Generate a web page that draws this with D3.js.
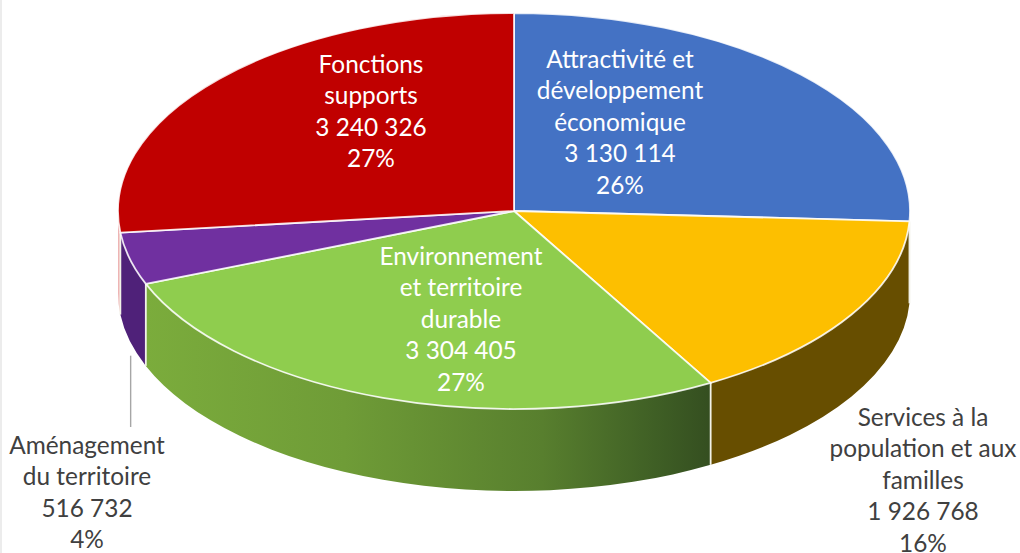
<!DOCTYPE html>
<html>
<head>
<meta charset="utf-8">
<style>
    html, body { margin: 0; padding: 0; background: #fff; overflow: hidden; }
    svg { display: block; font-family: Lato, sans-serif; }
</style>
</head>
<body>
<div id="visualization"></div>
<script src="https://cdn.jsdelivr.net/npm/d3@7"></script>
<script>
const categories = [
    ['Attractivité et', 'développement', 'économique'],
    ['Services à la', 'population et aux', 'familles'],
    ['Environnement', 'et territoire', 'durable'],
    ['Aménagement', 'du territoire'],
    ['Fonctions', 'supports']
];
const values = [3130114, 1926768, 3304405, 516732, 3240326];
const topColors = ['#4472c4', '#fdbf00', '#8fcd4e', '#7030a0', '#c00000'];
const wallColors = ['#4472c4', '#674e00', 'url(#greenWall)', '#4f2179', '#eeb4b4'];
const labelColors = ['#fff', '#404040', '#fff', '#404040', '#fff'];

// label centres, in page pixels (first line)
const labelX = [620, 923, 461, 87, 371];
const labelY = [59, 417, 256, 445, 64];

const width = 1020;
const height = 553;
const cx = 514;
const cy = 211;
const rx = 396;
const ry = 198;
const depth = 82;
const lineHeight = 31.6;

const fmt = d3.formatLocale({ decimal: ',', thousands: ' ', grouping: [3], currency: ['', ' €'] }).format(',d');
const total = d3.sum(values);

const svg = d3.select('#visualization')
    .append('svg')
    .attr('width', width)
    .attr('height', height);

svg.append('rect')
    .attr('width', 2)
    .attr('height', height)
    .attr('fill', '#ececec');

const grad = svg.append('defs')
    .append('linearGradient')
    .attr('id', 'greenWall')
    .attr('gradientUnits', 'userSpaceOnUse')
    .attr('x1', cx - rx * 0.93)
    .attr('x2', cx + rx * 0.5)
    .attr('y1', 0)
    .attr('y2', 0);
grad.append('stop').attr('offset', '0%').attr('stop-color', '#7bac3c');
grad.append('stop').attr('offset', '35%').attr('stop-color', '#6f9c37');
grad.append('stop').attr('offset', '70%').attr('stop-color', '#587f2e');
grad.append('stop').attr('offset', '90%').attr('stop-color', '#3f5f25');
grad.append('stop').attr('offset', '100%').attr('stop-color', '#344e20');

const pie = d3.pie().sort(null).value(d => d);
const arcs = pie(values);

// angle 0 is at 12 o'clock, clockwise
const px = a => cx + rx * Math.sin(a);
const py = a => cy - ry * Math.cos(a);

// Side walls: only the front half of the ellipse is visible
const walls = arcs.map((d, i) => {
    const a0 = Math.max(d.startAngle, Math.PI / 2);
    const a1 = Math.min(d.endAngle, 3 * Math.PI / 2);
    return { i, a0, a1 };
}).filter(d => d.a1 > d.a0);

svg.append('g')
    .selectAll('path')
    .data(walls)
    .enter()
    .append('path')
    .attr('fill', d => wallColors[d.i])
    .attr('d', d => `M${px(d.a0)},${py(d.a0)}`
        + `A${rx},${ry} 0 0 1 ${px(d.a1)},${py(d.a1)}`
        + `L${px(d.a1)},${py(d.a1) + depth}`
        + `A${rx},${ry} 0 0 0 ${px(d.a0)},${py(d.a0) + depth}Z`);

// White seams between the walls
svg.append('g')
    .selectAll('line')
    .data(arcs.filter(d => d.startAngle > Math.PI / 2 && d.startAngle < 3 * Math.PI / 2))
    .enter()
    .append('line')
    .attr('x1', d => px(d.startAngle))
    .attr('x2', d => px(d.startAngle))
    .attr('y1', d => py(d.startAngle))
    .attr('y2', d => py(d.startAngle) + depth)
    .attr('stroke', '#f2f2e8')
    .attr('stroke-width', 1.8);

// Top of the pie
svg.append('g')
    .selectAll('path')
    .data(arcs)
    .enter()
    .append('path')
    .attr('fill', (d, i) => topColors[i])
    .attr('stroke', '#fff')
    .attr('stroke-opacity', 0.85)
    .attr('stroke-width', 1.8)
    .attr('stroke-linejoin', 'round')
    .attr('d', d => {
        const large = d.endAngle - d.startAngle > Math.PI ? 1 : 0;
        return `M${cx},${cy}L${px(d.startAngle)},${py(d.startAngle)}`
            + `A${rx},${ry} 0 ${large} 1 ${px(d.endAngle)},${py(d.endAngle)}Z`;
    });

// Leader line for the small slice
const small = arcs[3];
const leaderAngle = (small.startAngle + small.endAngle) / 2;
svg.append('line')
    .attr('x1', px(leaderAngle) + 1)
    .attr('x2', px(leaderAngle) + 1)
    .attr('y1', py(leaderAngle) + depth + 15)
    .attr('y2', 427)
    .attr('stroke', '#a6a6a6')
    .attr('stroke-width', 1.4);

// Labels
const label = svg.append('g')
    .selectAll('text')
    .data(categories)
    .enter()
    .append('text')
    .attr('text-anchor', 'middle')
    .attr('font-size', 24.4)
    .attr('fill', (d, i) => labelColors[i]);

label.each(function(d, i) {
    const lines = d.concat([fmt(values[i]), Math.round(values[i] / total * 100) + '%']);
    d3.select(this).selectAll('tspan')
        .data(lines)
        .enter()
        .append('tspan')
        .attr('x', labelX[i])
        .attr('y', (l, j) => labelY[i] + j * lineHeight)
        .attr('dy', '0.35em')
        .text(l => l);
});
</script>
</body>
</html>
